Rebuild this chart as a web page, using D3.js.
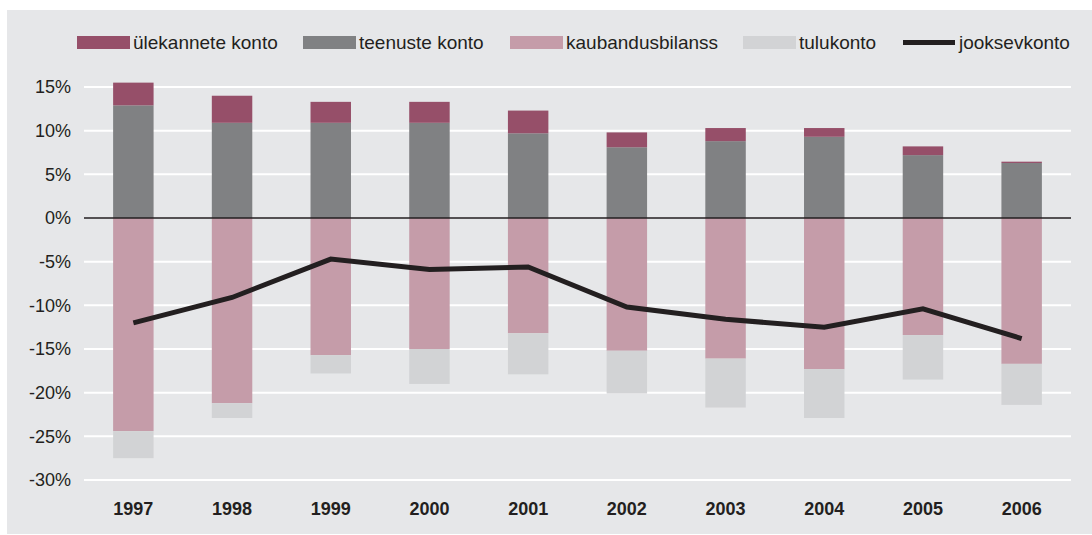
<!DOCTYPE html>
<html>
<head>
<meta charset="utf-8">
<script src="https://cdn.jsdelivr.net/npm/d3@7"></script>
<style>
  body { margin: 0; background: #fff; }
  text { font-family: "Liberation Sans", Arial, sans-serif; fill: #231f20; }
</style>
</head>
<body>
<div id="canvas"></div>
<script>
const years = ["1997", "1998", "1999", "2000", "2001", "2002", "2003", "2004", "2005", "2006"];
const ulekanded = [2.6, 3.1, 2.4, 2.4, 2.6, 1.7, 1.5, 1.0, 1.0, 0.15];
const teenused = [12.9, 10.9, 10.9, 10.9, 9.7, 8.1, 8.8, 9.3, 7.2, 6.3];
const kaubandus = [-24.4, -21.2, -15.7, -15.0, -13.2, -15.2, -16.1, -17.3, -13.4, -16.7];
const tulu = [-3.1, -1.7, -2.1, -4.0, -4.7, -4.9, -5.6, -5.6, -5.1, -4.7];
const jooksev = [-12.0, -9.1, -4.7, -5.9, -5.6, -10.2, -11.6, -12.5, -10.4, -13.8];
const yTicks = [15, 10, 5, 0, -5, -10, -15, -20, -25, -30];

const width = 1092;
const height = 535;
const margin = { top: 87, left: 84, bottom: 55, right: 21 };

const canvas = d3.select("#canvas");
const svg = canvas.append("svg")
  .attr("width", width)
  .attr("height", height);

// grey panel
svg.append("rect")
  .attr("x", 7).attr("y", 10)
  .attr("width", width - 7).attr("height", 524)
  .attr("fill", "#e6e7e9");

const y = d3.scaleLinear()
  .domain([-30, 15])
  .range([480, margin.top]);

const x = d3.scaleBand()
  .domain(years)
  .range([margin.left, width - margin.right])
  .paddingInner(0.59)
  .paddingOuter(0.295);

// grid lines
svg.append("g")
  .selectAll("line")
  .data(yTicks.filter(d => d !== 0))
  .enter().append("line")
  .attr("x1", margin.left)
  .attr("x2", width - margin.right)
  .attr("y1", d => y(d))
  .attr("y2", d => y(d))
  .attr("stroke", "#fff")
  .attr("stroke-width", 2);

// stacked bars: positives up from 0, negatives down from 0
const series = [
  { key: "teenuste konto", color: "#808183", vals: teenused, base: teenused.map(() => 0) },
  { key: "ülekannete konto", color: "#964f69", vals: ulekanded, base: teenused },
  { key: "kaubandusbilanss", color: "#c59ca9", vals: kaubandus, base: kaubandus.map(() => 0) },
  { key: "tulukonto", color: "#d2d3d5", vals: tulu, base: kaubandus }
];

series.forEach(s => {
  svg.append("g")
    .selectAll("rect")
    .data(years)
    .enter().append("rect")
    .attr("x", d => x(d))
    .attr("width", x.bandwidth())
    .attr("y", (d, i) => y(Math.max(s.base[i], s.base[i] + s.vals[i])))
    .attr("height", (d, i) => Math.abs(y(s.base[i]) - y(s.base[i] + s.vals[i])))
    .attr("fill", s.color);
});

// zero line
svg.append("line")
  .attr("x1", margin.left)
  .attr("x2", width - margin.right)
  .attr("y1", y(0))
  .attr("y2", y(0))
  .attr("stroke", "#231f20")
  .attr("stroke-width", 1.5);

// current account line
const line = d3.line()
  .x((d, i) => x(years[i]) + x.bandwidth() / 2)
  .y(d => y(d));

svg.append("path")
  .datum(jooksev)
  .attr("d", line)
  .attr("fill", "none")
  .attr("stroke", "#231f20")
  .attr("stroke-width", 5);

// y axis labels
const yAxis = d3.axisLeft(y)
  .tickValues(yTicks)
  .tickSize(0)
  .tickPadding(13)
  .tickFormat(d => d + "%");

svg.append("g")
  .attr("transform", `translate(${margin.left},0)`)
  .call(yAxis)
  .call(g => g.select(".domain").remove())
  .selectAll("text")
  .attr("font-family", "Liberation Sans, Arial, sans-serif")
  .attr("font-size", 18)
  .attr("fill", "#231f20");

// x axis labels
const xAxis = d3.axisBottom(x).tickSize(0).tickPadding(0);
svg.append("g")
  .attr("transform", "translate(0,502)")
  .call(xAxis)
  .call(g => g.select(".domain").remove())
  .selectAll("text")
  .attr("dy", "0.72em")
  .attr("font-family", "Liberation Sans, Arial, sans-serif")
  .attr("font-size", 18)
  .attr("font-weight", "bold")
  .attr("fill", "#231f20");

// legend
const legendItems = [
  { name: "ülekannete konto", color: "#964f69", x: 77 },
  { name: "teenuste konto", color: "#808183", x: 303 },
  { name: "kaubandusbilanss", color: "#c59ca9", x: 510 },
  { name: "tulukonto", color: "#d2d3d5", x: 743 },
  { name: "jooksevkonto", color: "#231f20", x: 903, isLine: true }
];

const legend = svg.append("g");
legendItems.forEach(d => {
  if (d.isLine) {
    legend.append("rect")
      .attr("x", d.x).attr("y", 40)
      .attr("width", 52).attr("height", 5)
      .attr("fill", d.color);
  } else {
    legend.append("rect")
      .attr("x", d.x).attr("y", 36)
      .attr("width", 53).attr("height", 13)
      .attr("fill", d.color);
  }
  legend.append("text")
    .attr("x", d.x + 56)
    .attr("y", 49)
    .attr("font-size", 19)
    .text(d.name);
});
</script>
</body>
</html>
